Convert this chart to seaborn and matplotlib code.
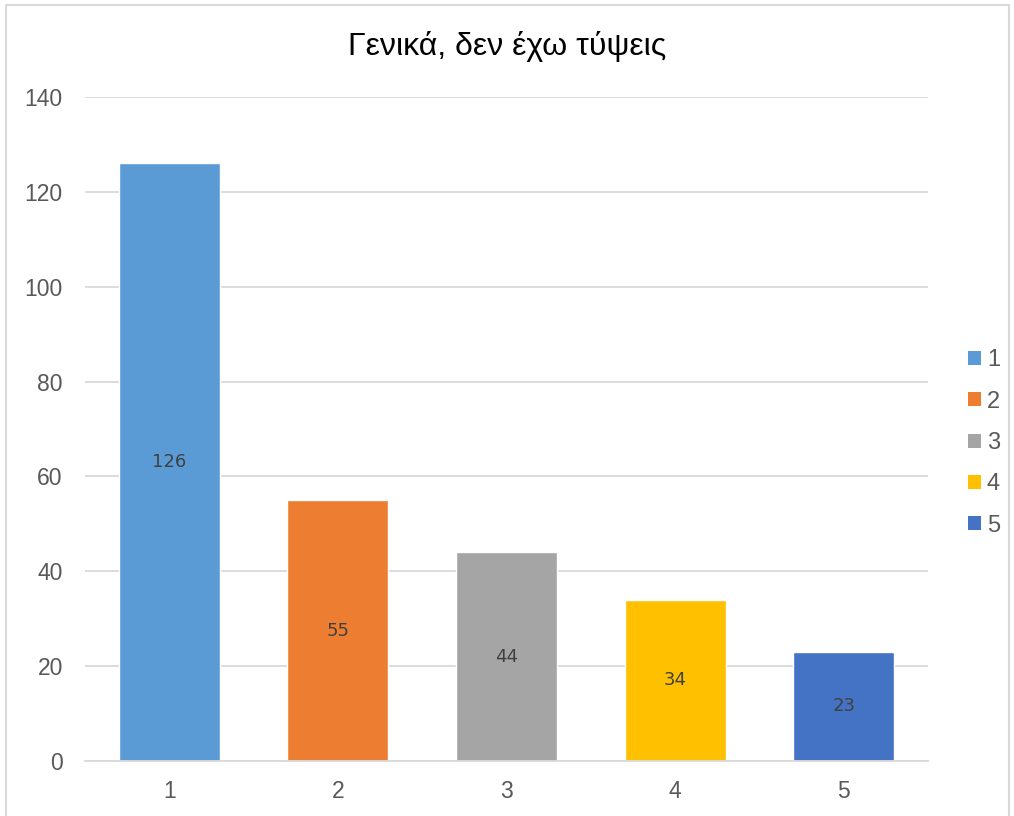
import matplotlib
matplotlib.use("Agg")
import matplotlib.pyplot as plt
import seaborn as sns
import pandas as pd
from matplotlib.patches import Rectangle, Patch

categories = ["1", "2", "3", "4", "5"]
values = [126, 55, 44, 34, 23]
colors = ["#5B9BD5", "#ED7D31", "#A5A5A5", "#FFC000", "#4472C4"]
title = "Γενικά, δεν έχω τύψεις"
yticks = [0, 20, 40, 60, 80, 100, 120, 140]

sns.set_style("white")
plt.rcParams['font.family'] = ['Liberation Sans', 'DejaVu Sans']

df = pd.DataFrame({"cat": categories, "val": values})

fig = plt.figure(figsize=(10.14, 8.16), dpi=100)
ax = fig.add_axes([85/1014, 1-761/816, (928-85)/1014, (761-97)/816])

sns.barplot(data=df, x="cat", y="val", hue="cat", palette=colors, order=categories,
            hue_order=categories, width=0.6, dodge=False, legend=False, ax=ax, saturation=1)

ax.set_ylim(0, 140)
ax.set_xlim(-0.5, 4.5)
ax.set_yticks(yticks)
ax.yaxis.grid(True, color="#D9D9D9", linewidth=1.3)
ax.set_axisbelow(True)
for s in ["top", "right", "left"]:
    ax.spines[s].set_visible(False)
ax.spines["bottom"].set_color("#D9D9D9")
ax.spines["bottom"].set_linewidth(1.3)
ax.tick_params(axis="both", length=0, labelsize=16.5, labelcolor="#595959", pad=14)
ax.tick_params(axis="y", pad=16)
ax.set_xlabel("")
ax.set_ylabel("")

for c in ax.containers:
    ax.bar_label(c, label_type="center", fontsize=13, color="#404040", family="DejaVu Sans")

fig.text(0.5, 1-47/816, title, ha="center", va="center", fontsize=23, color="#000000")

handles = [Patch(facecolor=col, edgecolor="none") for col in colors]
fig.legend(handles, categories, loc="center left", bbox_to_anchor=(968/1014, 1-443/816),
           frameon=False, fontsize=17, labelcolor="#595959", handlelength=0.55, handleheight=0.55,
           handletextpad=0.25, labelspacing=0.82, borderpad=0, borderaxespad=0)

fig.patches.append(Rectangle((6/1014, -0.01), (1009-6)/1014, 1-5/816+0.01, transform=fig.transFigure,
                             fill=False, edgecolor="#D9D9D9", linewidth=1.5))

fig.savefig("out.png", dpi=100)
